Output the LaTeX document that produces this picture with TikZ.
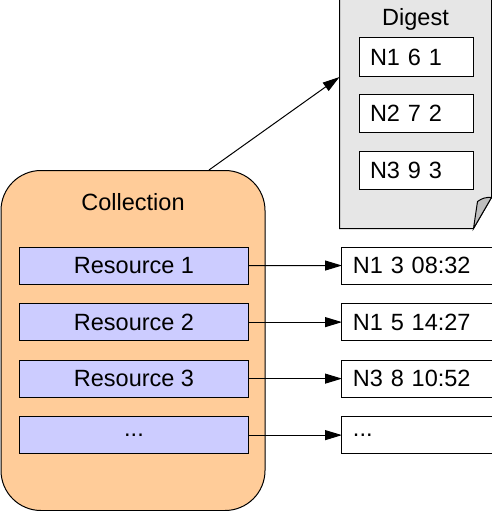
\documentclass[tikz,border=0pt]{standalone}
\usepackage{fontspec}
\setmainfont{Liberation Sans}
\usetikzlibrary{matrix,arrows.meta}

\definecolor{collfill}{HTML}{FFCC99}
\definecolor{resfill}{HTML}{CCCCFF}
\definecolor{digfill}{HTML}{E6E6E6}
\definecolor{foldfill}{HTML}{BFBFBF}

\begin{document}
\begin{tikzpicture}[x=1pt, y=-1pt, line width=1pt,
  font=\fontsize{23.5}{27}\selectfont,
  >={Triangle[length=17pt, width=10pt]},
  res/.style={draw, fill=resfill, minimum width=228pt, minimum height=37pt, inner sep=0pt, outer sep=0pt},
  val/.style={draw, fill=white, minimum height=37pt, inner xsep=11pt, inner ysep=0pt, outer sep=0pt,
    text width=129pt, align=left},
  entry/.style={draw, fill=white, minimum height=38pt, inner xsep=11pt, inner ysep=0pt,
    text width=92pt, align=left}]
  \useasboundingbox (0,0) rectangle (492,511);

  % collection
  \node[draw, fill=collfill, rounded corners=40pt, minimum width=264pt, minimum height=340pt] (coll) at (133,340.5) {};
  \node (colltitle) at (133,202) {Collection};

  % digest
  \node[minimum width=151pt, minimum height=228pt, inner sep=0pt] (dig) at (415.5,114) {};
  \draw[fill=digfill] (dig.north west) -- (dig.north east) -- ([yshift=31pt]dig.south east)
    -- ([xshift=-18pt]dig.south east) -- (dig.south west) -- cycle;
  \draw[fill=foldfill] ([yshift=31pt]dig.south east) -- ([xshift=-18pt]dig.south east)
    -- ([xshift=-14pt, yshift=27pt]dig.south east) to[bend left=20] cycle;
  \node (digtitle) at (415.5,19) {Digest};
  \node[entry] (d1) at (416,57) {N1 6 1};
  \node[entry] (d2) at (416,113.5) {N2 7 2};
  \node[entry] (d3) at (416,170) {N3 9 3};

  \matrix (m) [matrix of nodes, inner sep=0pt, row sep=18.5pt, column sep=93pt, anchor=north west,
    column 1/.style={nodes={res}}, column 2/.style={nodes={val}}] at (19,246)
  {
    Resource 1 & N1 3 08:32 \\
    Resource 2 & N1 5 14:27 \\
    Resource 3 & N3 8 10:52 \\
    ...        & ...        \\
  };
  \path[->]
  (m-1-1) edge (m-1-2)
  (m-2-1) edge (m-2-2)
  (m-3-1) edge (m-3-2)
  (m-4-1) edge (m-4-2)
  (coll.north) ++(76,0) coordinate (collout) edge ([yshift=37pt]dig.west)
  ;
\end{tikzpicture}
\end{document}
